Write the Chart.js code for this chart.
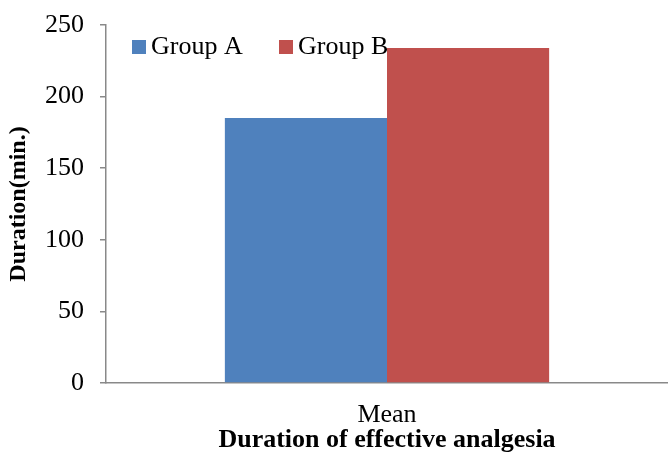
<!DOCTYPE html>
<html>
<head>
<meta charset="utf-8">
<script src="https://cdn.jsdelivr.net/npm/chart.js@4/dist/chart.umd.min.js"></script>
<style>
  html, body { margin: 0; padding: 0; background: #fff; }
  #wrap { width: 668px; height: 453px; }
</style>
</head>
<body>
<div id="wrap"><canvas id="myChart"></canvas></div>
<script>
// data
const categories = ['Mean'];
const groupA = [185];
const groupB = [234];
const seriesNames = ['Group A', 'Group B'];
const yTicks = [0, 50, 100, 150, 200, 250];

const serif = '"Liberation Serif", "Times New Roman", serif';
const axisGrey = '#898989';

// legend drawn inside the plot, top left, in one row
const insideLegend = {
  id: 'insideLegend',
  afterDraw(chart) {
    const c = chart.ctx;
    const area = chart.chartArea;
    let x = area.left + 26;
    const y = area.top + 15;
    c.save();
    c.font = '26px ' + serif;
    c.textBaseline = 'middle';
    chart.data.datasets.forEach(ds => {
      c.fillStyle = ds.backgroundColor;
      c.fillRect(x, y, 14, 14);
      c.fillStyle = '#000';
      c.fillText(ds.label, x + 19, y + 7);
      x += 147;
    });
    c.restore();
  }
};

const ctx = document.getElementById('myChart').getContext('2d');
const myChart = new Chart(ctx, {
  type: 'bar',
  data: {
    labels: categories,
    datasets: [
      { label: seriesNames[0], data: groupA, backgroundColor: '#4F81BD' },
      { label: seriesNames[1], data: groupB, backgroundColor: '#C0504D' }
    ]
  },
  plugins: [insideLegend],
  options: {
    responsive: true,
    maintainAspectRatio: false,
    animation: false,
    layout: { padding: { top: 25, right: 0, left: 0, bottom: 0 } },
    datasets: {
      bar: { barPercentage: 1, categoryPercentage: 0.577, borderWidth: 0 }
    },
    plugins: {
      tooltip: { enabled: false },
      legend: { display: false }
    },
    scales: {
      x: {
        grid: { display: false, drawTicks: false },
        border: { display: true, color: axisGrey, width: 1.5 },
        ticks: { color: '#000', padding: 17, font: { family: serif, size: 26 } },
        title: {
          display: true,
          text: 'Duration of effective analgesia',
          color: '#000',
          padding: { top: 1, bottom: 0 },
          font: { family: serif, size: 26, weight: 'bold', lineHeight: 1 }
        },
        afterFit: scale => { scale.height = 70; }
      },
      y: {
        min: yTicks[0],
        max: yTicks[yTicks.length - 1],
        afterBuildTicks: scale => { scale.ticks = yTicks.map(v => ({ value: v })); },
        grid: { drawOnChartArea: false, drawTicks: true, tickLength: 6, color: axisGrey, lineWidth: 1.5 },
        border: { display: true, color: axisGrey, width: 1.5 },
        ticks: { color: '#000', padding: 16, font: { family: serif, size: 26 } },
        title: {
          display: true,
          text: 'Duration(min.)',
          color: '#000',
          padding: { top: 4, bottom: 0 },
          font: { family: serif, size: 24, weight: 'bold' }
        },
        afterFit: scale => { scale.width = 106; scale.paddingTop = 0; scale.paddingBottom = 0; }
      }
    }
  }
});
</script>
</body>
</html>
